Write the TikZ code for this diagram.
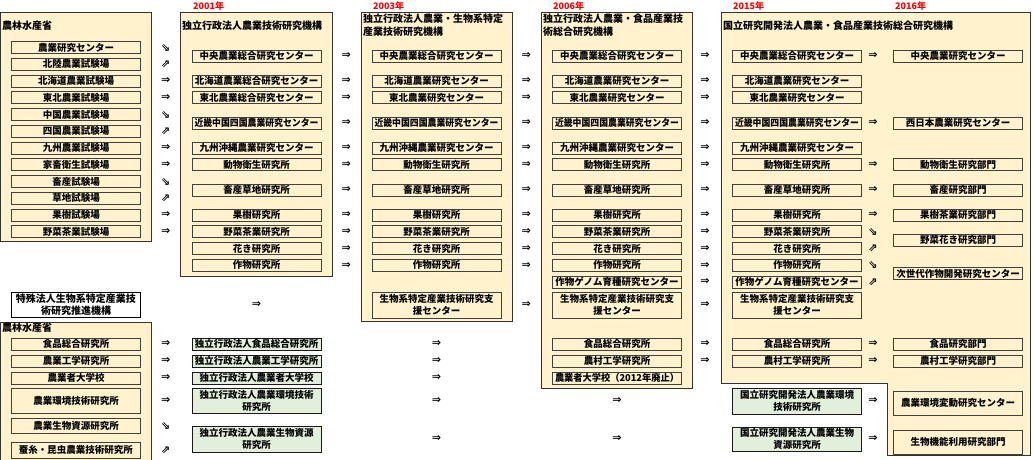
\documentclass[tikz,border=0pt]{standalone}
\usepackage{fontspec}
\setmainfont{Noto Sans CJK JP}
\newfontfamily\arrowfont{DejaVu Sans}
\usepackage{graphicx}
\usepackage{tikz}

\definecolor{panelfill}{HTML}{FFF2CC}
\definecolor{newfill}{HTML}{E2EFDA}
\definecolor{yearred}{HTML}{FF0000}

\newsavebox{\fitbox}
\newcommand{\fitw}[1]{\sbox{\fitbox}{#1}\ifdim\wd\fitbox>124pt \resizebox{124pt}{\height}{#1}\else\usebox{\fitbox}\fi}

\tikzset{
    panel/.style={draw=black!80, fill=panelfill, line width=0.8pt},
    unitbox/.style={draw=black!75, fill=panelfill, line width=0.7pt, minimum width=129pt, minimum height=12pt, inner sep=0pt, align=center, font=\fontsize{9.5}{12}\selectfont\bfseries},
    newbox/.style={unitbox, fill=newfill, draw=black!90},
    paneltitle/.style={anchor=west, inner sep=1pt, align=left, font=\fontsize{10}{13}\selectfont\bfseries},
    year/.style={anchor=west, inner sep=0pt, text=yearred, font=\fontsize{9}{9}\selectfont\bfseries},
    arr/.style={inner sep=0pt, font=\arrowfont\bfseries\fontsize{11}{11}\selectfont},
}

\begin{document}
\begin{tikzpicture}[x=1pt,y=-1pt]
    \useasboundingbox (0,0) rectangle (1033,460);
    \draw[panel] (0.5,12) rectangle (151,241);
    \draw[panel] (180,12) rectangle (332,276);
    \draw[panel] (361,12) rectangle (512,321);
    \draw[panel] (541,12) rectangle (692,388);
    \draw[panel] (721,12) -- (1030,12) -- (1030,455) -- (887,455) -- (887,383) -- (721,383) -- cycle;
    \draw[panel] (0.5,322) rectangle (151,462);

    \node[year] (y2001) at (193,6) {2001年};
    \node[year] (y2003) at (373,6) {2003年};
    \node[year] (y2006) at (553,6) {2006年};
    \node[year] (y2015) at (733,6) {2015年};
    \node[year] (y2016) at (895,6) {2016年};

    \node[paneltitle] (t1) at (1,26) {農林水産省};
    \node[paneltitle] (t2) at (181,26) {独立行政法人農業技術研究機構};
    \node[paneltitle] (t3) at (362,25.5) {独立行政法人農業・生物系特定\\産業技術研究機構};
    \node[paneltitle] (t4) at (542,25.5) {独立行政法人農業・食品産業技\\術総合研究機構};
    \node[paneltitle] (t5) at (722,26) {国立研究開発法人農業・食品産業技術総合研究機構};
    \node[paneltitle] (t6) at (1,328) {農林水産省};

    \foreach \y/\t [count=\i] in {47.5/農業研究センター, 64.25/北陸農業試験場, 81/北海道農業試験場, 97.75/東北農業試験場, 114.5/中国農業試験場, 131.25/四国農業試験場, 148/九州農業試験場, 164.75/家畜衛生試験場, 181.5/畜産試験場, 198.25/草地試験場, 215/果樹試験場, 231.75/野菜茶業試験場}
    \node[unitbox] (a\i) at (76,\y) {\t};
    \foreach \y/\t [count=\i] in {55.9/中央農業総合研究センター, 81/北海道農業総合研究センター, 97.75/東北農業総合研究センター, 122.9/近畿中国四国農業研究センター, 148/九州沖縄農業研究センター, 164.75/動物衛生研究所, 189.9/畜産草地研究所, 215/果樹研究所, 231.75/野菜茶業研究所, 248.5/花き研究所, 265.25/作物研究所}
    \node[unitbox] (b\i) at (256.5,\y) {\fitw{\t}};
    \foreach \x/\col in {436.5/c, 617/d, 797/e}
    \foreach \y/\t [count=\i] in {55.9/中央農業総合研究センター, 81/北海道農業研究センター, 97.75/東北農業研究センター, 122.9/近畿中国四国農業研究センター, 148/九州沖縄農業研究センター, 164.75/動物衛生研究所, 189.9/畜産草地研究所, 215/果樹研究所, 231.75/野菜茶業研究所, 248.5/花き研究所, 265.25/作物研究所}
    \node[unitbox] (\col\i) at (\x,\y) {\fitw{\t}};
    \node[unitbox, minimum height=26] (c12) at (436.5,305) {生物系特定産業技術研究支\\援センター};
    \foreach \x/\col in {617/d, 797/e}
    \node[unitbox] (\col12) at (\x,282) {\fitw{作物ゲノム育種研究センター}};
    \foreach \x/\col in {617/d, 797/e}
    \node[unitbox, minimum height=26] (\col13) at (\x,305) {生物系特定産業技術研究支\\援センター};
    \foreach \x/\col in {617/d, 797/e}
    \foreach \y/\t [count=\i from 14] in {344/食品総合研究所, 361/農村工学研究所}
    \node[unitbox] (\col\i) at (\x,\y) {\t};
    \node[unitbox] (d16) at (617,378) {\fitw{農業者大学校（2012年廃止）}};
    \foreach \y/\t [count=\i] in {55.9/中央農業研究センター, 122.9/西日本農業研究センター, 164.75/動物衛生研究部門, 189.9/畜産研究部門, 215/果樹茶業研究部門, 240.1/野菜花き研究部門, 273.6/次世代作物開発研究センター, 344/食品研究部門, 361/農村工学研究部門}
    \node[unitbox] (f\i) at (958,\y) {\fitw{\t}};
    \node[unitbox, minimum height=24] (f10) at (958,403) {農業環境変動研究センター};
    \node[unitbox, minimum height=24] (f11) at (958,442) {生物機能利用研究部門};

    \node[unitbox, fill=white, draw=black, minimum height=25, font=\fontsize{10}{12}\selectfont\bfseries] (s) at (76,304.5) {特殊法人生物系特定産業技\\術研究推進機構};
    \foreach \y/\h/\t [count=\i] in {344/12/食品総合研究所, 361/12/農業工学研究所, 378/12/農業者大学校, 400.5/25/農業環境技術研究所, 425.5/15/農業生物資源研究所, 450/16/蚕糸・昆虫農業技術研究所}
    \node[unitbox, minimum height=\h] (g\i) at (76,\y) {\t};
    \foreach \y/\t [count=\i] in {344/独立行政法人食品総合研究所, 361/独立行政法人農業工学研究所, 378/独立行政法人農業者大学校}
    \node[newbox] (h\i) at (256.5,\y) {\fitw{\t}};
    \node[newbox, minimum height=25] (h4) at (256.5,400.5) {独立行政法人農業環境技術\\研究所};
    \node[newbox, minimum height=26] (h5) at (256.5,439) {独立行政法人農業生物資源\\研究所};
    \node[newbox, minimum height=26] (k1) at (797,401) {国立研究開発法人農業環境\\技術研究所};
    \node[newbox, minimum height=24] (k2) at (797,439) {国立研究開発法人農業生物\\資源研究所};

    \foreach \i/\g in {1/⇘, 2/⇗, 3/⇒, 4/⇒, 5/⇘, 6/⇗, 7/⇒, 8/⇒, 9/⇘, 10/⇗, 11/⇒, 12/⇒}
    \node[arr] (pa\i) at ([xshift=25pt]a\i.east) {\g};
    \foreach \i in {1,...,11}
    \node[arr] (pb\i) at ([xshift=25pt]b\i.east) {⇒};
    \foreach \i in {1,...,12}
    \node[arr] (pc\i) at ([xshift=25pt]c\i.east) {⇒};
    \foreach \i in {1,...,15}
    \node[arr] (pd\i) at ([xshift=23pt]d\i.east) {⇒};
    \foreach \i/\g in {1/⇒, 4/⇒, 6/⇒, 7/⇒, 8/⇒, 9/⇘, 10/⇗, 11/⇘, 12/⇗, 14/⇒, 15/⇒}
    \node[arr] (pe\i) at ([xshift=11pt]e\i.east) {\g};
    \node[arr] (ps) at (b11 |- s) {⇒};
    \foreach \i/\g in {1/⇒, 2/⇒, 3/⇒, 4/⇒, 5/⇘, 6/⇗}
    \node[arr] (pg\i) at ([xshift=25pt]g\i.east) {\g};
    \foreach \i in {1,...,5}
    \node[arr] (ph\i) at (c1 |- h\i) {⇒};
    \foreach \i in {4,5}
    \node[arr] (pq\i) at (d1 |- h\i) {⇒};
    \foreach \i in {1,2}
    \node[arr] (pk\i) at ([xshift=11pt]k\i.east) {⇒};
\end{tikzpicture}
\end{document}
